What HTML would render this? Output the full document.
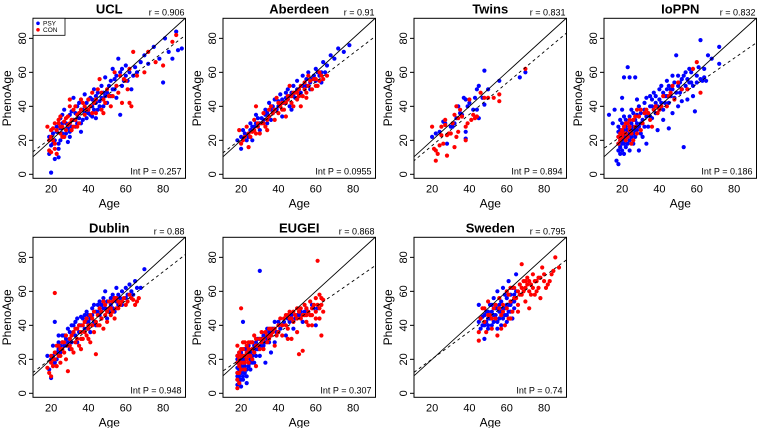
<!DOCTYPE html>
<html><head><meta charset="utf-8">
<style>
html,body{margin:0;padding:0;background:#fff;}
svg{display:block;font-family:"Liberation Sans",Arial,sans-serif;}
</style></head>
<body>
<svg id="chart" width="760" height="428" viewBox="0 0 760 428" xmlns="http://www.w3.org/2000/svg"></svg>
<script>
const panelNames=["UCL","Aberdeen","Twins","IoPPN","Dublin","EUGEI","Sweden"];
const rValues=["0.906","0.91","0.831","0.832","0.88","0.868","0.795"];
const intPValues=["0.257","0.0955","0.894","0.186","0.948","0.307","0.74"];
const fitIntercept=[4.6,4.0,-1.5,7.5,3.5,5.3,4.0];
const fitSlope=[0.84,0.84,0.92,0.76,0.85,0.76,0.81];
const xTicks=[20,40,60,80];
const yTicks=[0,20,40,60,80];

const uclPsy=[[20,1],[22,9],[24,15],[19,22],[21,18],[23,25],[25,20],[26,30],[28,24],[30,35],[27,38],[29,19],[31,28],[33,36],[32,45],[34,30],[35,42],[36,25],[37,38],[38,47],[40,44],[41,35],[42,40],[43,50],[44,46],[45,38],[46,43],[47,52],[48,48],[50,42],[52,55],[53,62],[55,45],[56,68],[57,35],[58,52],[60,58],[62,60],[63,50],[65,63],[68,66],[70,70],[72,65],[75,75],[78,68],[80,54],[81,80],[83,72],[85,68],[87,84],[88,73],[90,74],[30,22],[39,33],[49,57],[54,50],[25,27],[44,33],
[22,20],[23,28],[24,18],[25,33],[26,24],[27,22],[28,30],[29,27],[30,25],[31,37],[32,32],[33,28],[34,40],[35,33],[36,38],[37,32],[38,36],[39,42],[40,36],[41,45],[42,44],[43,38],[44,42],[45,48],[46,40],[47,45],[48,40],[49,46],[50,48],[51,52],[52,46],[53,50],[54,56],[55,58],[57,60],[58,62],[59,55],[60,64],[61,55],[64,58],[66,60],[20,17],[21,24],[19,12],[24,10],[26,35],[36,30],[42,34]];
const uclCon=[[18,28],[19,14],[20,26],[21,20],[22,30],[23,12],[24,32],[25,24],[26,28],[27,22],[28,33],[29,29],[30,40],[31,26],[32,38],[33,32],[35,36],[36,44],[38,40],[40,38],[42,48],[44,36],[46,56],[48,44],[50,50],[52,40],[54,60],[56,48],[58,42],[60,55],[62,62],[63,40],[64,72],[66,58],[70,60],[72,72],[76,66],[80,64],[85,78],[87,82],[34,28],[43,42],[47,38],[53,46],[59,56],
[19,20],[20,22],[21,27],[22,18],[23,26],[24,30],[25,28],[26,22],[27,31],[28,26],[29,34],[30,30],[31,32],[32,28],[33,40],[34,35],[35,30],[36,38],[37,42],[38,35],[39,38],[40,44],[41,40],[42,36],[44,44],[45,50],[47,48],[49,42],[51,46],[55,52],[57,58],[61,50],[62,42],[20,13],[22,15],[25,34],[30,44],[48,36]];
const aberdeenPsy=[[18,20],[20,15],[22,24],[24,22],[25,30],[27,28],[28,35],[30,26],[31,33],[33,38],[34,30],[35,42],[37,36],[38,44],[40,40],[41,47],[42,34],[44,45],[45,50],[46,40],[48,52],[49,45],[50,55],[52,48],[53,58],[55,52],[56,60],[58,56],[60,62],[62,58],[64,66],[65,60],[68,70],[70,68],[72,74],[75,72],[78,76],[26,20],[36,32],[47,38],[57,50],[63,54],
[20,22],[21,26],[23,20],[25,26],[26,28],[28,30],[29,33],[30,30],[32,32],[33,35],[34,36],[36,38],[37,40],[39,38],[40,43],[42,44],[43,42],[44,48],[46,46],[47,48],[48,46],[50,50],[51,46],[53,52],[54,50],[55,56],[57,54],[59,58],[60,55],[61,60],[63,60],[66,64],[45,44],[38,38]];
const aberdeenCon=[[19,26],[21,20],[23,28],[24,16],[26,25],[27,32],[29,30],[30,24],[32,36],[33,28],[35,34],[36,40],[38,32],[39,45],[40,36],[42,42],[43,38],[45,46],[46,52],[47,42],[48,48],[50,44],[51,50],[53,46],[54,54],[55,48],[56,58],[58,50],[60,56],[61,52],[62,60],[64,56],[66,58],[28,40],[44,34],[52,40],[34,26],
[20,18],[22,22],[24,24],[25,22],[27,26],[28,24],[29,28],[31,30],[32,30],[34,32],[35,38],[37,36],[38,38],[40,42],[41,40],[42,38],[44,42],[45,44],[47,46],[49,48],[50,48],[51,46],[52,52],[54,50],[56,52],[57,55],[59,56],[60,52],[62,55],[63,58],[48,40],[55,45]];
const twinsPsy=[[20,22],[22,24],[24,25],[26,31],[27,30],[28,18],[30,28],[32,30],[33,33],[34,40],[35,36],[36,35],[37,45],[38,25],[38,21],[39,40],[40,42],[42,38],[43,45],[44,38],[45,52],[45,33],[47,45],[48,61],[48,41],[50,50],[56,55],[67,57],[70,60],[38,44],[44,50],[31,28]];
const twinsCon=[[20,28],[21,15],[22,8],[22,14],[23,12],[24,17],[25,23],[25,28],[26,18],[27,29],[27,32],[28,11],[28,23],[29,24],[30,24],[31,30],[32,35],[32,16],[33,40],[33,22],[34,33],[35,38],[36,34],[38,28],[38,20],[39,30],[40,44],[41,32],[43,33],[44,34],[46,48],[48,45],[50,45],[53,45],[56,47],[56,43],[70,62],[34,25],[42,35]];
const ioppnPsy=[[17,8],[18,6],[18,14],[19,20],[18,25],[20,45],[21,57],[23,63],[24,57],[27,57],[22,28],[20,18],[21,12],[23,22],[25,30],[26,18],[27,26],[28,35],[29,14],[30,30],[31,22],[32,38],[33,45],[34,28],[35,40],[36,33],[37,48],[38,36],[39,26],[40,44],[41,52],[42,38],[43,46],[44,55],[45,42],[46,50],[47,58],[48,45],[49,70],[50,52],[51,48],[52,56],[53,16],[54,60],[55,50],[56,62],[57,54],[58,46],[59,37],[60,58],[61,63],[62,79],[63,55],[64,57],[66,70],[68,68],[72,75],[72,65],[15,30],[16,38],[13,35],[19,32],[25,38],[33,18],[45,27],[38,42],[50,40],[55,44],[24,24],[29,40],
[18,18],[18,22],[18,28],[19,16],[19,26],[19,12],[20,20],[20,24],[20,30],[20,14],[21,22],[21,18],[21,26],[21,34],[22,20],[22,16],[22,32],[23,26],[23,18],[23,30],[24,20],[24,34],[24,14],[25,22],[25,26],[26,28],[26,24],[26,36],[27,22],[27,32],[28,26],[28,30],[29,28],[29,34],[30,36],[30,24],[31,32],[32,28],[32,42],[33,34],[34,36],[35,34],[36,40],[36,44],[37,38],[38,46],[39,40],[40,38],[40,50],[41,42],[42,48],[43,42],[44,46],[44,50],[45,52],[46,46],[47,50],[48,54],[49,48],[50,58],[51,54],[52,50],[53,58],[54,52],[55,56],[56,54],[57,60],[58,52],[60,54],[62,56],[64,62],[65,55],[20,38],[28,44],[35,46],[47,36],[42,32],[52,43]];
const ioppnCon=[[18,18],[19,24],[20,22],[21,28],[22,20],[23,30],[24,26],[25,18],[26,32],[27,28],[28,38],[29,34],[30,26],[32,36],[35,32],[38,40],[40,38],[42,46],[44,40],[46,48],[48,44],[50,54],[55,50],[60,66],[62,48],[58,62],[36,28],[33,38],[22,24],[24,32],
[18,22],[19,20],[20,26],[21,24],[22,30],[23,22],[24,28],[25,24],[26,20],[27,34],[28,24],[30,38],[31,30],[34,36],[37,38],[39,36],[41,40],[45,46],[47,52],[52,50]];
const dublinPsy=[[18,22],[19,14],[20,9],[21,28],[22,42],[23,20],[24,26],[25,24],[26,30],[27,34],[28,28],[29,38],[30,32],[32,36],[33,42],[34,30],[35,40],[36,45],[38,38],[39,48],[40,42],[42,46],[43,52],[44,40],[45,48],[46,54],[48,50],[49,60],[50,44],[52,56],[53,58],[54,48],[55,62],[56,52],[58,60],[60,56],[62,64],[63,60],[65,66],[66,62],[68,62],[70,73],[30,26],[41,36],[47,44],
[20,20],[21,22],[22,18],[23,24],[24,30],[25,28],[26,34],[27,28],[28,32],[29,30],[30,36],[31,30],[32,40],[33,34],[34,44],[35,36],[36,40],[37,44],[38,46],[39,42],[40,46],[41,44],[42,50],[43,42],[44,48],[45,52],[46,46],[47,52],[48,56],[49,50],[50,54],[51,48],[52,52],[53,50],[54,56],[55,54],[56,58],[57,56],[58,52],[60,62],[61,58],[64,58],[24,34],[31,40]];
const dublinCon=[[19,12],[20,10],[20,18],[21,20],[22,59],[22,24],[23,16],[24,28],[25,22],[26,26],[27,30],[28,20],[29,13],[30,28],[31,34],[32,24],[33,30],[34,38],[35,28],[36,36],[37,32],[38,42],[39,34],[40,38],[41,30],[42,44],[43,36],[44,23],[45,46],[46,40],[47,48],[48,38],[49,52],[50,42],[51,50],[52,46],[53,54],[54,44],[55,56],[56,50],[58,54],[60,52],[62,58],[64,55],[66,54],[67,56],
[18,15],[20,22],[21,16],[22,20],[23,28],[24,22],[25,26],[26,30],[27,24],[28,34],[29,28],[30,32],[31,26],[32,36],[33,38],[34,32],[35,40],[36,32],[37,40],[38,36],[39,44],[40,40],[41,46],[42,40],[43,48],[44,42],[45,40],[46,50],[47,44],[48,54],[49,46],[50,48],[51,54],[52,50],[53,48],[54,56],[55,50],[56,54],[57,52],[59,56],[61,54],[63,56],[65,52],[36,26],[40,32],[25,18]];
const eugeiPsy=[[18,5],[18,10],[18,15],[18,20],[19,8],[19,14],[19,24],[20,4],[20,12],[20,18],[21,42],[21,22],[22,16],[22,26],[23,10],[23,20],[24,28],[25,14],[25,24],[26,30],[27,18],[28,26],[29,32],[30,72],[30,22],[31,28],[32,34],[33,18],[34,38],[35,30],[36,24],[38,42],[40,36],[42,40],[45,44],[48,38],[50,46],[52,48],[55,50],[58,52],[60,40],[38,30],[44,34],[26,22],
[18,12],[18,18],[18,22],[18,8],[19,10],[19,18],[19,20],[19,6],[20,8],[20,16],[20,20],[20,24],[21,14],[21,20],[21,10],[22,20],[22,12],[22,22],[23,14],[23,26],[24,16],[24,24],[25,18],[25,20],[26,18],[26,26],[27,24],[27,28],[28,22],[28,30],[29,26],[30,28],[31,32],[32,28],[33,30],[34,32],[35,36],[36,34],[37,38],[39,36],[40,42],[41,38],[43,42],[46,42],[47,46],[49,44],[51,46],[53,42],[54,48],[56,48],[59,50],[61,50],[23,6],[21,8]];
const eugeiCon=[[18,3],[18,8],[18,28],[19,16],[19,12],[20,50],[20,22],[21,18],[21,26],[22,14],[22,30],[23,24],[24,18],[24,22],[25,30],[26,26],[27,34],[28,16],[28,28],[30,32],[32,26],[33,36],[35,32],[36,38],[38,28],[40,40],[41,44],[42,34],[44,46],[45,38],[46,48],[48,42],[50,50],[51,23],[52,44],[53,25],[54,52],[55,46],[56,40],[57,54],[58,50],[60,56],[60,48],[61,78],[62,58],[62,44],[63,52],[63,34],[64,55],[50,36],[47,32],
[18,12],[18,18],[18,22],[19,20],[19,24],[19,6],[20,14],[20,18],[20,26],[21,22],[21,30],[22,18],[22,22],[23,20],[23,28],[24,26],[24,30],[25,22],[26,30],[26,20],[27,24],[28,32],[29,28],[30,26],[31,30],[31,36],[32,32],[34,34],[34,30],[35,38],[36,34],[37,36],[38,38],[39,34],[40,36],[42,40],[43,44],[44,40],[45,46],[46,44],[47,44],[48,48],[49,46],[50,44],[51,48],[52,50],[53,46],[54,46],[55,50],[56,48],[57,46],[58,46],[59,52],[60,44],[61,52],[62,50],[63,56],[64,48],[58,40],[55,42],[45,32]];
const swedenPsy=[[45,42],[45,52],[46,38],[47,45],[48,32],[48,40],[49,48],[50,44],[50,38],[51,52],[52,40],[53,46],[53,56],[54,50],[55,42],[55,60],[56,48],[57,54],[58,44],[58,62],[59,50],[60,56],[60,46],[61,66],[61,52],[62,58],[62,48],[63,62],[64,54],[65,70],[65,60],[57,40],[52,48],[63,44],[59,58],
[46,44],[47,40],[48,46],[49,42],[50,48],[51,44],[52,52],[53,42],[54,46],[55,50],[56,44],[56,52],[57,48],[58,50],[59,46],[60,52],[61,48],[62,52],[63,54],[64,50],[64,58],[60,42],[55,38],[50,40]];
const swedenCon=[[45,36],[45,31],[46,44],[47,50],[48,42],[49,36],[50,54],[51,46],[52,38],[53,50],[54,44],[55,34],[56,56],[57,46],[58,52],[59,40],[60,60],[61,44],[62,54],[63,48],[64,62],[65,56],[66,52],[67,64],[68,76],[68,58],[69,66],[70,62],[70,54],[71,68],[72,60],[73,64],[74,70],[75,58],[76,66],[77,62],[78,68],[78,56],[79,74],[80,66],[82,64],[84,70],[86,80],[88,74],[66,48],[72,50],
[48,50],[50,46],[52,44],[54,52],[56,50],[58,48],[60,50],[61,58],[62,62],[64,56],[66,60],[67,58],[68,62],[69,60],[70,66],[71,64],[72,66],[73,58],[74,62],[75,66],[76,60],[77,68],[80,70],[81,62],[83,66],[85,72],[62,44],[57,38]];

const psySeries=[uclPsy,aberdeenPsy,twinsPsy,ioppnPsy,dublinPsy,eugeiPsy,swedenPsy];
const conSeries=[uclCon,aberdeenCon,twinsCon,ioppnCon,dublinCon,eugeiCon,swedenCon];

const NS="http://www.w3.org/2000/svg";
const svg=document.getElementById('chart');
const colLeft=[33,223,414,604];
const rowTop=[18.3,237.3];
const boxW=152.5, boxH=160;
const xMin=10.3,xMax=92,yMin=-2.35,yMax=91.8;
function mk(tag,attrs,parent){const e=document.createElementNS(NS,tag);for(const k in attrs)e.setAttribute(k,attrs[k]);(parent||svg).appendChild(e);return e;}
function slug(s){return s.toLowerCase().replace(/[^a-z0-9]+/g,'-');}

panelNames.forEach((name,i)=>{
  const L=colLeft[i%4], T=rowTop[Math.floor(i/4)];
  const sx=v=>L+(v-xMin)/(xMax-xMin)*boxW;
  const sy=v=>T+boxH-(v-yMin)/(yMax-yMin)*boxH;
  const g=mk('g',{});
  
  
  const clipId='clip'+i;
  const cp=mk('clipPath',{id:clipId},g);
  mk('rect',{x:L,y:T,width:boxW,height:boxH},cp);
  const pts=mk('g',{'clip-path':'url(#'+clipId+')'},g);
  
  
  psySeries[i].forEach(p=>{
    const c=mk('circle',{cx:sx(p[0]).toFixed(1),cy:sy(p[1]).toFixed(1),r:2.1,fill:'#0000ff'},pts);
    
    
  });
  conSeries[i].forEach(p=>{
    const c=mk('circle',{cx:sx(p[0]).toFixed(1),cy:sy(p[1]).toFixed(1),r:2.1,fill:'#ff0000'},pts);
    
    
  });
  const id=mk('line',{x1:sx(0),y1:sy(0),x2:sx(100),y2:sy(100),stroke:'#000','stroke-width':0.9,'clip-path':'url(#'+clipId+')'},g);
  
  
  const fit=mk('line',{x1:sx(0),y1:sy(fitIntercept[i]),x2:sx(100),y2:sy(fitIntercept[i]+fitSlope[i]*100),stroke:'#000','stroke-width':0.9,'stroke-dasharray':'3,3','clip-path':'url(#'+clipId+')'},g);
  
  
  const box=mk('rect',{x:L,y:T,width:boxW,height:boxH,fill:'none',stroke:'#000','stroke-width':1},g);
  
  
  xTicks.forEach(t=>{
    const tx=mk('text',{x:sx(t),y:T+boxH+14,'font-size':11,'text-anchor':'middle',fill:'#000'},g);
    tx.textContent=t;
    
    
  });
  yTicks.forEach(t=>{
    mk('line',{x1:L-4,y1:sy(t),x2:L,y2:sy(t),stroke:'#000','stroke-width':1},g);
    const x=L-7,y=sy(t);
    const ty=mk('text',{x:x,y:y,'font-size':11,'text-anchor':'middle',fill:'#000',transform:'rotate(-90 '+x+' '+y+')'},g);
    ty.textContent=t;
    
    
  });
  const xt=mk('text',{x:L+boxW/2,y:T+boxH+29,'font-size':12,'text-anchor':'middle',fill:'#000'},g);
  xt.textContent='Age';
  
  
  const yx=L-22,yy=T+boxH/2;
  const yt=mk('text',{x:yx,y:yy,'font-size':12,'text-anchor':'middle',fill:'#000',transform:'rotate(-90 '+yx+' '+yy+')'},g);
  yt.textContent='PhenoAge';
  
  
  const ti=mk('text',{x:L+boxW/2,y:T-5,'font-size':13,'font-weight':'bold','text-anchor':'middle',fill:'#000'},g);
  ti.textContent=name;
  
  
  const rt=mk('text',{x:L+boxW-1,y:T-3,'font-size':9,'text-anchor':'end',fill:'#000'},g);
  rt.textContent='r = '+rValues[i];
  
  
  const ip=mk('text',{x:L+boxW-4,y:T+boxH-4,'font-size':9,'text-anchor':'end',fill:'#000'},g);
  ip.textContent='Int P = '+intPValues[i];
  
  
  if(i===0){
    const lg=mk('g',{},g);
    
    
    mk('rect',{x:L,y:T,width:32,height:17,fill:'#fff',stroke:'#000','stroke-width':0.8},lg);
    [['PSY','#0000ff'],['CON','#ff0000']].forEach((e,k)=>{
      const en=mk('g',{},lg);
      
      
      mk('circle',{cx:L+5,cy:T+5+k*6.5,r:1.8,fill:e[1]},en);
      const lt=mk('text',{x:L+10,y:T+7.3+k*6.5,'font-size':6.5,fill:'#000'},en);
      lt.textContent=e[0];
    });
  }
});
</script>
</body></html>
